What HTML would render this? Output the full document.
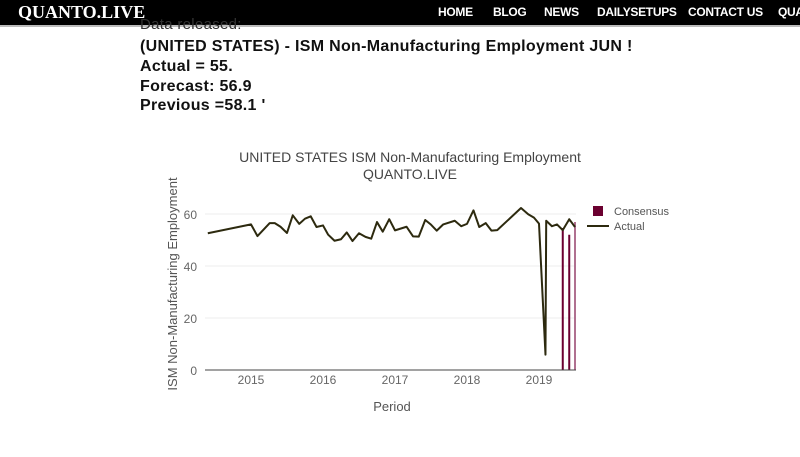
<!DOCTYPE html>
<html><head><meta charset="utf-8"><style>
body{margin:0;width:800px;height:457px;overflow:hidden;background:#fff;font-family:"Liberation Sans",sans-serif;position:relative}
#nav{position:absolute;left:0;top:0;width:800px;height:25px;background:#000;border-bottom:2px solid #bbb}
#logo{position:absolute;left:18px;top:2px;color:#fff;font-family:"Liberation Serif",serif;font-weight:bold;font-size:18px}
.nl{position:absolute;top:5px;color:#fff;font-weight:bold;font-size:12px;letter-spacing:-0.3px}
.t{position:absolute;left:140px;font-weight:bold;font-size:16px;color:#111;letter-spacing:0.3px}
</style></head><body>
<div id="nav">
<div id="logo">QUANTO.LIVE</div>
<span class="nl" style="left:438px">HOME</span>
<span class="nl" style="left:493px">BLOG</span>
<span class="nl" style="left:544px">NEWS</span>
<span class="nl" style="left:597px">DAILYSETUPS</span>
<span class="nl" style="left:688px">CONTACT US</span>
<span class="nl" style="left:778px">QUA</span>
</div>
<div class="t" style="top:16px;font-weight:normal;font-size:15px;color:#333">Data released:</div>
<div class="t" style="top:38px">(UNITED STATES) - ISM Non-Manufacturing Employment JUN !</div>
<div class="t" style="top:58px">Actual = 55.</div>
<div class="t" style="top:78px">Forecast: 56.9</div>
<div class="t" style="top:97px">Previous =58.1 '</div>
<svg id="chart" width="800" height="457" style="position:absolute;left:0;top:0"></svg>
<script>
const actualDates=[2014.40,2015.0,2015.09,2015.26,2015.33,2015.41,2015.5,2015.58,2015.67,2015.75,2015.83,2015.91,2016.0,2016.07,2016.16,2016.25,2016.33,2016.41,2016.5,2016.59,2016.67,2016.75,2016.83,2016.92,2017.0,2017.16,2017.25,2017.33,2017.42,2017.5,2017.58,2017.67,2017.83,2017.92,2018.0,2018.09,2018.17,2018.26,2018.34,2018.42,2018.75,2018.85,2018.93,2019.0,2019.09,2019.1,2019.18,2019.25,2019.33,2019.42,2019.5];
const actualValues=[52.6,56.0,51.5,56.5,56.5,55.1,52.7,59.5,56.2,58.2,59.1,55.0,55.6,52.1,49.7,50.3,52.9,49.6,52.6,51.2,50.5,56.9,53.2,58.0,53.7,55.1,51.4,51.3,57.7,55.9,53.6,56.0,57.4,55.3,56.2,61.4,55.0,56.5,53.6,53.8,62.3,59.9,58.6,56.3,5.9,57.4,55.3,56.0,53.8,58.0,55.0];
const consensusDates=[2019.33,2019.42,2019.5];
const consensusValues=[54.6,52.0,56.9];
const yTicks=[0,20,40,60];
const xTicks=[2015,2016,2017,2018,2019];
const NS="http://www.w3.org/2000/svg";
const svg=document.getElementById('chart');
const X=d=>251+(d-2015)*72, Y=v=>370-v*2.6;
function mk(t,a,txt){const e=document.createElementNS(NS,t);for(const k in a)e.setAttribute(k,a[k]);if(txt!=null)e.textContent=txt;svg.appendChild(e);return e;}
yTicks.forEach(v=>{
 if(v>0){const g=mk('line',{x1:205,x2:576,y1:Y(v),y2:Y(v),stroke:'#eee','stroke-width':1});
 
 }
 const t=mk('text',{x:197,y:Y(v)+5,'text-anchor':'end','font-size':12,fill:'#666','font-family':'Liberation Sans,sans-serif'},v);
 
 
});
xTicks.forEach(v=>{
 const t=mk('text',{x:X(v),y:384,'text-anchor':'middle','font-size':12,fill:'#666','font-family':'Liberation Sans,sans-serif'},v);
 
 
});
consensusDates.forEach((d,i)=>{
 const r=mk('line',{x1:X(d),x2:X(d),y1:Y(consensusValues[i]),y2:Y(0),stroke:i==2?'#b07090':'#6b0030','stroke-width':2});
 
 
});
const p=mk('polyline',{points:actualDates.map((d,i)=>X(d)+','+Y(actualValues[i])).join(' '),fill:'none',stroke:'#2d2a0f','stroke-width':2,'stroke-linejoin':'round'});


const ax=mk('line',{x1:205,x2:576,y1:370,y2:370,stroke:'#444','stroke-width':1});


const t1=mk('text',{x:410,y:162,'text-anchor':'middle','font-size':14,fill:'#444','font-family':'Liberation Sans,sans-serif'},'UNITED STATES ISM Non-Manufacturing Employment');


const t2=mk('text',{x:410,y:179,'text-anchor':'middle','font-size':14,fill:'#444','font-family':'Liberation Sans,sans-serif'},'QUANTO.LIVE');


const yt=mk('text',{x:0,y:0,transform:'translate(177,284) rotate(-90)','text-anchor':'middle','font-size':13,fill:'#555','font-family':'Liberation Sans,sans-serif'},'ISM Non-Manufacturing Employment');


const xt=mk('text',{x:392,y:411,'text-anchor':'middle','font-size':13,fill:'#555','font-family':'Liberation Sans,sans-serif'},'Period');


const ls=mk('rect',{x:593,y:206,width:10,height:10,fill:'#6b0030'});


const lt=mk('text',{x:614,y:215,'font-size':11,fill:'#555','font-family':'Liberation Sans,sans-serif'},'Consensus');


const ll=mk('line',{x1:587,x2:609,y1:226,y2:226,stroke:'#2d2a0f','stroke-width':2});


const la=mk('text',{x:614,y:230,'font-size':11,fill:'#555','font-family':'Liberation Sans,sans-serif'},'Actual');


</script>
</body></html>
